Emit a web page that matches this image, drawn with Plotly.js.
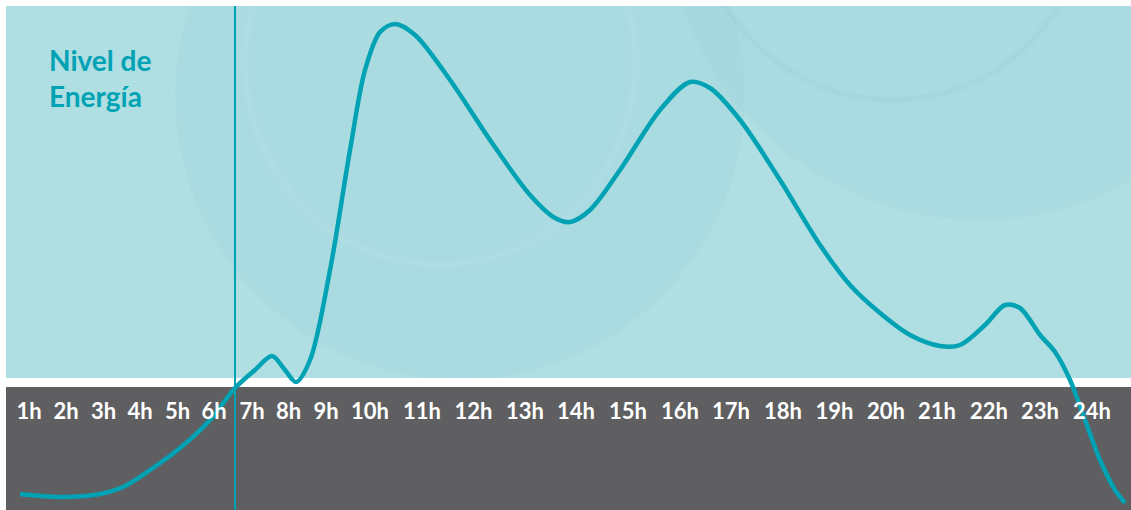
<!DOCTYPE html>
<html>
<head>
<meta charset="utf-8">
<script src="https://cdn.plot.ly/plotly-3.0.1.min.js"></script>
<style>html,body{margin:0;padding:0;background:#fff;}#chart{width:1131px;height:510px;}</style>
</head>
<body>
<div id="chart"></div>
<script>
// Curve: time (hour-scale position) vs energy level
const hours = [0.783,1.650,2.516,3.058,3.599,4.249,4.899,5.440,5.873,6.241,6.523,6.761,7.065,7.498,7.931,8.256,8.581,8.906,9.339,10.097,10.963,11.830,12.371,12.696,13.129,13.779,14.645,15.295,15.728,16.378,17.244,18.111,18.760,19.410,20.060,20.710,21.143,21.684,22.118,22.442,22.876,23.201,23.526,23.850,24.175,24.500,24.717];
const energy = [3.2,2.6,3.2,4.8,8.0,12.4,18.0,24.4,28.0,30.8,28.0,25.6,30.0,48.0,72.0,88.0,95.6,97.2,95.0,86.0,74.0,63.0,58.4,57.6,60.0,68.0,80.0,85.6,84.4,78.0,66.0,53.0,45.0,39.4,35.0,32.8,33.0,37.0,41.0,40.4,35.0,31.6,26.0,18.0,10.0,4.0,1.4];
// Hour labels and where they sit along the axis
const hourLabels = ['1h','2h','3h','4h','5h','6h','7h','8h','9h','10h','11h','12h','13h','14h','15h','16h','17h','18h','19h','20h','21h','22h','23h','24h'];
const labelPos = [0.978,1.780,2.592,3.383,4.195,4.985,5.808,6.599,7.411,8.364,9.490,10.606,11.721,12.826,13.952,15.078,16.183,17.309,18.425,19.540,20.645,21.771,22.876,24.002];
const markerHour = 5.44;
const titleText = 'Nivel de<br>Energía';

const teal = '#00a2b3';
const trace = {
  x: hours, y: energy, type: 'scatter', mode: 'lines',
  line: {color: teal, width: 4.5, shape: 'spline', smoothing: 0.9},
  hoverinfo: 'skip', cliponaxis: false
};

const shapes = [
  // faint background circles
  {type:'circle', xref:'x', yref:'y', layer:'below', x0:4.141, x1:16.486, y0:26, y1:140, fillcolor:'rgba(0,140,160,0.022)', line:{width:0}},
  {type:'circle', xref:'x', yref:'y', layer:'below', x0:5.66, x1:14.11, y0:49, y1:130, fillcolor:'rgba(0,0,0,0)', line:{width:7, color:'rgba(255,255,255,0.05)'}},
  {type:'circle', xref:'x', yref:'y', layer:'below', x0:14.76, x1:28.38, y0:58, y1:184, fillcolor:'rgba(0,140,160,0.022)', line:{width:0}},
  {type:'circle', xref:'x', yref:'y', layer:'below', x0:15.46, x1:23.89, y0:82, y1:160, fillcolor:'rgba(0,0,0,0)', line:{width:6, color:'rgba(0,140,160,0.03)'}},
  // white gap and grey band
  {type:'rect', xref:'paper', yref:'paper', layer:'below', x0:0, x1:1, y0:0.2440, y1:0.2619, fillcolor:'#ffffff', line:{width:0}},
  {type:'rect', xref:'paper', yref:'paper', layer:'below', x0:0, x1:1, y0:0, y1:0.2440, fillcolor:'#5f5f61', line:{width:0}},
  // vertical marker line
  {type:'line', xref:'x', yref:'paper', layer:'above', x0:markerHour, x1:markerHour, y0:0, y1:1, line:{color:teal, width:2}}
];

const layout = {
  width: 1131, height: 510,
  margin: {l:6, r:0, t:6, b:0, pad:0},
  paper_bgcolor: '#ffffff',
  plot_bgcolor: '#afdee3',
  showlegend: false,
  xaxis: {
    range: [0.480, 24.846], showgrid:false, zeroline:false, showline:false,
    tickmode:'array', tickvals: labelPos, ticktext: hourLabels, ticks:'',
    anchor:'free', position: 0.226,
    tickfont: {family:'Lato', size:22, color:'#ffffff', weight:700},
    fixedrange:true
  },
  yaxis: {range:[0,100.8], visible:false, fixedrange:true},
  shapes: shapes,
  annotations: [{
    text: titleText, xref:'paper', yref:'paper', x:0.036, y:0.93,
    xanchor:'left', yanchor:'top', align:'left', showarrow:false,
    font: {family:'Lato', size:28, color:'#00a3b4', weight:700}
  }]
};

Plotly.newPlot('chart', [trace], layout, {staticPlot:true, displayModeBar:false});
</script>
</body>
</html>
